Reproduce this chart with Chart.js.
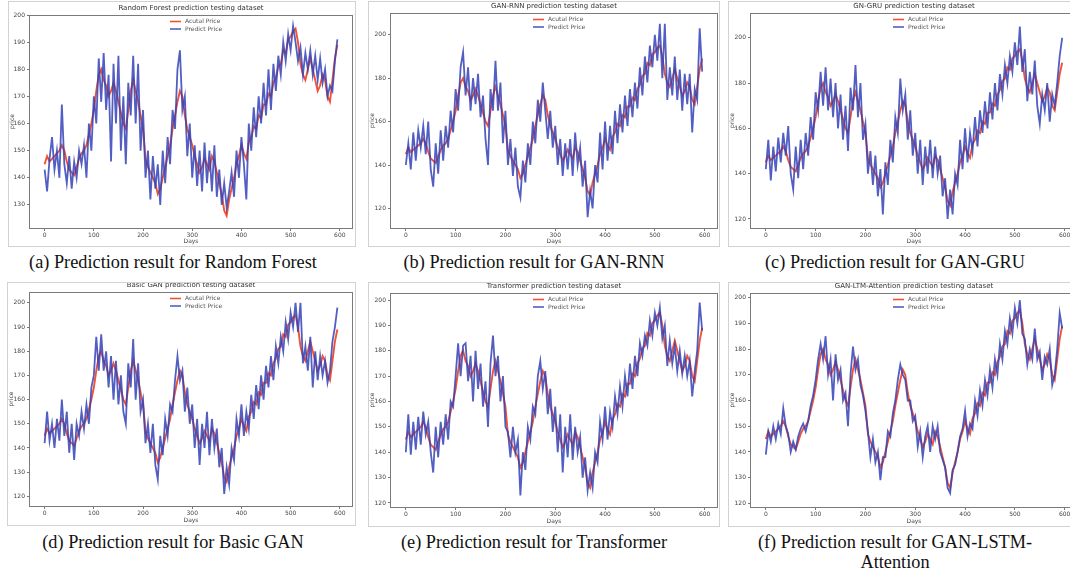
<!DOCTYPE html>
<html>
<head>
<meta charset="utf-8">
<script src="https://cdn.jsdelivr.net/npm/chart.js@4.4.0/dist/chart.umd.min.js"></script>
<style>
  body { margin: 0; width: 1070px; height: 574px; overflow: hidden; position: relative; background: #fff; }
  .frame { position: absolute; border: 1px solid #d2d2d2; background: #fff; }
  .frame canvas { display: block; }
  .cap { position: absolute; width: 400px; text-align: center; font-family: "Liberation Serif", "Times New Roman", serif;
         font-size: 18.3px; line-height: 20px; color: #111; white-space: pre; }
</style>
</head>
<body>
<script>
// ---- data (one value every 5 days) ----
const days = [
  0, 5, 10, 15, 20, 25, 30, 35, 40, 45,
  50, 55, 60, 65, 70, 75, 80, 85, 90, 95,
  100, 105, 110, 115, 120, 125, 130, 135, 140, 145,
  150, 155, 160, 165, 170, 175, 180, 185, 190, 195,
  200, 205, 210, 215, 220, 225, 230, 235, 240, 245,
  250, 255, 260, 265, 270, 275, 280, 285, 290, 295,
  300, 305, 310, 315, 320, 325, 330, 335, 340, 345,
  350, 355, 360, 365, 370, 375, 380, 385, 390, 395,
  400, 405, 410, 415, 420, 425, 430, 435, 440, 445,
  450, 455, 460, 465, 470, 475, 480, 485, 490, 495,
  500, 505, 510, 515, 520, 525, 530, 535, 540, 545,
  550, 555, 560, 565, 570, 575, 580, 585, 590, 595
];

const actualPrice = [
  145, 148, 146, 147, 148, 149, 150, 152, 150, 146,
  143, 142, 141, 144, 147, 149, 150, 152, 156, 160,
  165, 172, 178, 180, 176, 174, 170, 172, 175, 172,
  168, 164, 160, 158, 165, 172, 176, 172, 168, 163,
  158, 147, 144, 142, 140, 138, 134, 136, 140, 144,
  148, 152, 158, 163, 168, 172, 170, 163, 158, 155,
  152, 148, 145, 142, 144, 147, 145, 143, 148, 146,
  142, 138, 134, 128, 126, 132, 136, 140, 145, 148,
  152, 149, 147, 153, 155, 159, 158, 163, 162, 167,
  167, 171, 170, 175, 177, 181, 182, 187, 186, 191,
  192, 194, 195, 190, 182, 178, 176, 180, 184, 180,
  176, 172, 174, 178, 176, 170, 168, 176, 184, 189
];

const rfPredict = [
  143, 135, 147, 155, 143, 150, 140, 167, 145, 138,
  148, 136, 146, 140, 150, 145, 152, 140, 160, 150,
  170, 160, 184, 168, 186, 165, 178, 146, 182, 160,
  185, 150, 170, 145, 175, 163, 185, 160, 182, 150,
  165, 140, 150, 132, 148, 136, 145, 130, 150, 138,
  155, 145, 165, 158, 180, 187, 165, 170, 148, 160,
  140, 152, 137, 150, 135, 153, 138, 150, 135, 152,
  133, 143, 130, 138, 129, 135, 142, 133, 150, 140,
  155, 145, 132, 160, 150, 166, 155, 170, 160, 175,
  163, 180, 165, 182, 172, 185, 178, 190, 183, 193,
  187, 196, 190, 183, 188, 178, 186, 180, 187, 178,
  185, 176, 184, 175, 180, 170, 174, 172, 183, 191
];

const rnnPredict = [
  140, 150, 138, 155, 142, 156, 148, 158, 145, 160,
  138, 130, 150, 136, 156, 142, 158, 148, 165, 155,
  175, 165, 185, 192, 172, 185, 165, 180, 168, 182,
  162, 172, 152, 140, 175, 165, 188, 165, 178, 150,
  165, 140, 152, 135, 148, 130, 125, 142, 132, 150,
  140, 160, 150, 170, 160, 178, 165, 152, 165, 148,
  158, 140, 152, 135, 150, 138, 152, 135, 155, 140,
  148, 130, 142, 116, 128, 120, 140, 132, 155, 138,
  160, 142, 158, 145, 165, 150, 168, 155, 172, 158,
  175, 162, 178, 166, 185, 172, 190, 178, 195, 185,
  200, 188, 205, 180, 205, 170, 185, 172, 190, 170,
  184, 165, 182, 168, 182, 155, 175, 170, 203, 183
];

const gruPredict = [
  142, 155, 137, 152, 141, 156, 145, 158, 148, 161,
  140, 133, 152, 138, 155, 142, 158, 148, 165, 155,
  176, 168, 185, 170, 187, 168, 182, 165, 180, 160,
  175, 155, 170, 150, 178, 168, 188, 165, 180, 155,
  162, 140, 150, 135, 148, 130, 142, 122, 145, 135,
  155, 145, 165, 158, 182, 168, 175, 155, 168, 148,
  158, 140, 155, 135, 152, 140, 155, 138, 152, 140,
  148, 130, 138, 120, 133, 122, 140, 135, 155, 142,
  160, 145, 158, 150, 165, 152, 168, 158, 172, 160,
  176, 164, 180, 168, 184, 175, 188, 180, 192, 185,
  198, 188, 205, 185, 195, 172, 185, 175, 190, 170,
  162, 175, 168, 180, 163, 175, 170, 180, 192, 200
];

const ganPredict = [
  142, 155, 143, 150, 140, 152, 143, 160, 145, 155,
  138, 150, 135, 150, 145, 155, 148, 158, 150, 165,
  170, 186, 172, 187, 172, 180, 165, 178, 160, 176,
  158, 170, 155, 150, 175, 165, 185, 160, 175, 155,
  160, 142, 150, 138, 150, 133, 127, 145, 137, 152,
  145, 158, 155, 168, 178, 168, 172, 155, 165, 150,
  158, 140, 152, 133, 150, 140, 155, 137, 152, 140,
  148, 132, 140, 121, 132, 125, 140, 135, 152, 145,
  158, 145, 155, 148, 162, 152, 166, 156, 170, 160,
  174, 165, 178, 168, 182, 175, 186, 180, 192, 185,
  196, 190, 200, 188, 200, 175, 182, 172, 186, 165,
  180, 168, 178, 170, 176, 167, 172, 184, 190, 198
];

const transformerPredict = [
  140, 155, 139, 152, 141, 154, 143, 156, 147, 152,
  140, 132, 150, 138, 152, 143, 155, 145, 160, 158,
  170, 183, 170, 182, 183, 168, 178, 160, 180, 165,
  175, 158, 168, 150, 175, 186, 170, 178, 160, 170,
  150, 148, 138, 150, 140, 145, 123, 140, 133, 150,
  145, 158, 155, 170, 176, 165, 172, 155, 165, 148,
  158, 140, 155, 132, 150, 138, 155, 137, 150, 140,
  146, 130, 138, 125, 132, 126, 140, 136, 152, 145,
  158, 145, 156, 150, 162, 155, 166, 158, 170, 162,
  175, 165, 178, 170, 183, 178, 186, 182, 192, 186,
  195, 190, 197, 185, 190, 174, 184, 175, 182, 172,
  180, 171, 178, 170, 176, 162, 172, 180, 199, 188
];

const attentionPredict = [
  139, 148, 144, 150, 145, 151, 147, 157, 150, 147,
  140, 144, 141, 146, 149, 151, 148, 152, 158, 162,
  168, 176, 182, 176, 185, 170, 176, 160, 178, 168,
  172, 160, 163, 150, 170, 181, 172, 176, 166, 162,
  156, 148, 138, 145, 136, 140, 129, 138, 138, 148,
  146, 155, 160, 168, 174, 170, 168, 160, 160, 152,
  154, 142, 148, 138, 146, 150, 140, 150, 145, 150,
  140, 137, 134, 126, 124, 133, 135, 140, 146, 149,
  156, 146, 151, 149, 160, 154, 164, 158, 168, 162,
  172, 165, 176, 170, 182, 176, 187, 182, 192, 186,
  196, 190, 199, 186, 184, 174, 180, 176, 188, 176,
  179, 168, 177, 174, 180, 166, 170, 180, 194, 188
];

const seriesLabels = ['Acutal Price', 'Predict Price'];
const titles = [
  'Random Forest prediction testing dataset',
  'GAN-RNN prediction testing dataset',
  'GN-GRU prediction testing dataset',
  'Basic GAN prediction testing dataset',
  'Transformer prediction testing dataset',
  'GAN-LTM-Attention prediction testing dataset'
];
const captions = [
  '(a) Prediction result for Random Forest',
  '(b) Prediction result for GAN-RNN',
  '(c) Prediction result for GAN-GRU',
  '(d) Prediction result for Basic GAN',
  '(e) Prediction result for Transformer',
  '(f) Prediction result for GAN-LSTM-\nAttention'
];
const predictions = [rfPredict, rnnPredict, gruPredict, ganPredict, transformerPredict, attentionPredict];

const xTicks = [0, 100, 200, 300, 400, 500, 600];
const xLimits = [-29.75, 624.75];
const yTicks10 = [120, 130, 140, 150, 160, 170, 180, 190, 200];
const yTicks20 = [120, 140, 160, 180, 200];
const yTickSets = [yTicks10.slice(1), yTicks20, yTicks20, yTicks10, yTicks10, yTicks10];
const yLimits = [[121.5, 200], [111, 210], [116, 211], [116, 204.5], [118.4, 202.8], [118.6, 201.8]];

// ---- layout (page pixels): image frame [x, y, w, h] and axes box [left, top, right, bottom] ----
const panels = [
  { frame: [8, 1, 348, 246],   plot: [30, 15, 352, 228],   cap: [173, 252] },
  { frame: [368, 1, 352, 246], plot: [391, 13, 717, 228],  cap: [534, 252] },
  { frame: [728, 1, 352, 246], plot: [751, 13, 1077, 228], cap: [895, 252] },
  { frame: [7, 282, 349, 244], plot: [30, 292, 352, 506],  cap: [173, 532] },
  { frame: [368, 282, 352, 245], plot: [391, 293, 717, 507], cap: [534, 532] },
  { frame: [728, 282, 352, 245], plot: [751, 293, 1077, 507], cap: [895, 532] }
];

const RED = 'rgba(240, 72, 42, 0.95)';
const BLUE = 'rgba(52, 66, 182, 0.85)';

Chart.defaults.font.family = '"DejaVu Sans", sans-serif';
Chart.defaults.color = '#333';

// matplotlib style axes box + legend inside the axes
const axesBox = {
  id: 'axesBox',
  afterDatasetsDraw(chart) {
    const ctx = chart.ctx;
    const a = chart.chartArea;
    ctx.save();
    ctx.strokeStyle = '#7a7a7a';
    ctx.lineWidth = 1;
    ctx.strokeRect(Math.round(a.left) - 0.5, Math.round(a.top) + 0.5,
                   Math.round(a.right - a.left) + 1, Math.round(a.bottom - a.top));
    const cx = (a.left + a.right) / 2;
    ctx.font = '6px "DejaVu Sans"';
    ctx.textBaseline = 'middle';
    chart.data.datasets.forEach((ds, i) => {
      const y = a.top + 6.5 + i * 7.5;
      ctx.strokeStyle = ds.borderColor;
      ctx.lineWidth = 1.6;
      ctx.beginPath();
      ctx.moveTo(cx - 21, y);
      ctx.lineTo(cx - 10, y);
      ctx.stroke();
      ctx.fillStyle = '#555';
      ctx.fillText(ds.label, cx - 6, y);
    });
    ctx.restore();
  }
};

panels.forEach((p, i) => {
  const [fx, fy, fw, fh] = p.frame;
  const [pl, pt, pr, pb] = p.plot;
  const cw = fw - 2, ch = fh - 2;
  const ox = fx + 1, oy = fy + 1;
  const yWidth = pl - ox;
  const xHeight = oy + ch - pb;
  const topPad = pt - oy;
  const rightPad = ox + cw - pr;

  const frame = document.createElement('div');
  frame.className = 'frame';
  frame.style.left = fx + 'px';
  frame.style.top = fy + 'px';
  frame.style.width = cw + 'px';
  frame.style.height = ch + 'px';
  const canvas = document.createElement('canvas');
  canvas.width = cw;
  canvas.height = ch;
  canvas.style.width = cw + 'px';
  canvas.style.height = ch + 'px';
  frame.appendChild(canvas);
  document.body.appendChild(frame);

  const cap = document.createElement('div');
  cap.className = 'cap';
  cap.style.left = (p.cap[0] - 200) + 'px';
  cap.style.top = p.cap[1] + 'px';
  cap.textContent = captions[i];
  document.body.appendChild(cap);

  const pred = predictions[i];
  new Chart(canvas, {
    type: 'line',
    data: {
      datasets: [
        {
          label: seriesLabels[0],
          data: days.map((d, k) => ({ x: d, y: actualPrice[k] })),
          borderColor: RED,
          borderWidth: 1.9,
          order: 1
        },
        {
          label: seriesLabels[1],
          data: days.map((d, k) => ({ x: d, y: pred[k] })),
          borderColor: BLUE,
          borderWidth: 1.8,
          order: 0
        }
      ]
    },
    options: {
      responsive: false,
      animation: false,
      events: [],
      elements: { point: { radius: 0 }, line: { tension: 0 } },
      layout: { padding: { top: 0, right: rightPad, bottom: 0, left: 0 } },
      plugins: {
        legend: { display: false },
        tooltip: { enabled: false },
        title: {
          display: true,
          text: titles[i],
          fullSize: false,
          color: '#333',
          font: { size: 7, weight: 'normal', lineHeight: 1 },
          padding: { top: topPad - 10.5, bottom: 3.5 }
        }
      },
      scales: {
        x: {
          type: 'linear',
          min: xLimits[0],
          max: xLimits[1],
          afterBuildTicks: s => { s.ticks = xTicks.map(v => ({ value: v })); },
          afterFit: s => { s.height = xHeight; },
          ticks: { font: { size: 6 }, color: '#444', padding: 1, maxRotation: 0 },
          grid: { display: true, drawOnChartArea: false, drawTicks: true, tickLength: 3, color: '#777' },
          border: { display: false },
          title: { display: true, text: 'Days', font: { size: 6 }, color: '#444', padding: { top: 0, bottom: 1 } }
        },
        y: {
          min: yLimits[i][0],
          max: yLimits[i][1],
          afterBuildTicks: s => { s.ticks = yTickSets[i].map(v => ({ value: v })); },
          afterFit: s => { s.width = yWidth; },
          ticks: { font: { size: 6 }, color: '#444', padding: 2 },
          grid: { display: true, drawOnChartArea: false, drawTicks: true, tickLength: 3, color: '#777' },
          border: { display: false },
          title: { display: true, text: 'price', font: { size: 6 }, color: '#444', padding: { top: 0, bottom: 1 } }
        }
      }
    },
    plugins: [axesBox]
  });
});
</script>
</body>
</html>
